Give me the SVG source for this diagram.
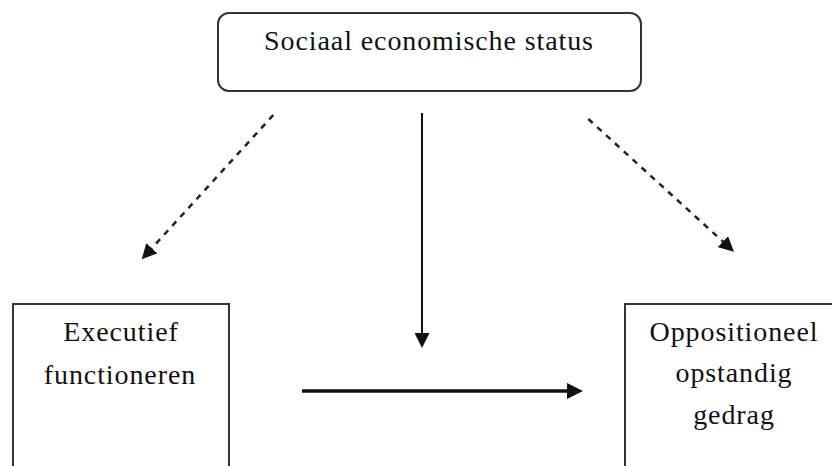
<svg xmlns="http://www.w3.org/2000/svg" width="832" height="466" viewBox="0 0 832 466">
<style>
  .box { fill: #ffffff; stroke: #333333; stroke-width: 2; }
  .lbl { font-family: "Liberation Serif", "Times New Roman", serif; font-size: 28px; letter-spacing: 0.9px; fill: #111111; text-anchor: middle; }
  .solid { stroke: #111111; fill: none; }
  .dash { stroke: #222222; stroke-width: 2.5; stroke-dasharray: 6 6; fill: none; }
</style>
<defs>
  <marker id="ah" markerUnits="userSpaceOnUse" markerWidth="16" markerHeight="16" refX="8" refY="8" orient="auto">
    <path d="M0,0 L16,8 L0,16 z" fill="#111111" stroke="none"/>
  </marker>
  <marker id="ahs" markerUnits="userSpaceOnUse" markerWidth="15" markerHeight="15" refX="7" refY="7.5" orient="auto">
    <path d="M0,0 L15,7.5 L0,15 z" fill="#111111" stroke="none"/>
  </marker>
</defs>
<rect width="832" height="466" fill="#ffffff"/>
<g id="node-ses">
  <rect class="box" x="218" y="13" width="423" height="78" rx="11" ry="11"/>
  <text class="lbl" x="429" y="50">Sociaal economische status</text>
</g>
<g id="node-ef">
  <rect class="box" x="13" y="304" width="216" height="180"/>
  <text class="lbl" x="121" y="341">Executief</text>
  <text class="lbl" x="120" y="384">functioneren</text>
</g>
<g id="node-odd">
  <rect class="box" x="625" y="304" width="220" height="180"/>
  <text class="lbl" x="734" y="341">Oppositioneel</text>
  <text class="lbl" x="734" y="382">opstandig</text>
  <text class="lbl" x="734" y="424">gedrag</text>
</g>
<g id="connectors">
  <line class="dash" x1="273.3" y1="115" x2="147.1" y2="253.4" marker-end="url(#ahs)"/>
  <line class="dash" x1="588.3" y1="119" x2="728.1" y2="246.3" marker-end="url(#ahs)"/>
  <line class="solid" stroke-width="2" x1="422" y1="113" x2="422" y2="340" marker-end="url(#ahs)"/>
  <line class="solid" stroke-width="3.5" x1="302" y1="391" x2="575" y2="391" marker-end="url(#ah)"/>
</g>
</svg>
